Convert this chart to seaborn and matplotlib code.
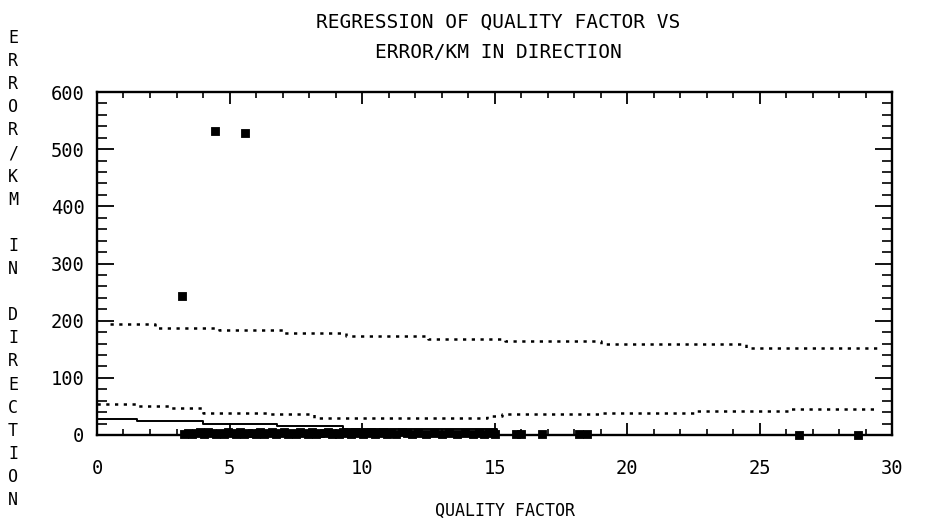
import matplotlib
matplotlib.use("Agg")
import matplotlib.pyplot as plt
from matplotlib.ticker import MultipleLocator
import seaborn as sns
import pandas as pd

# Observations: quality factor vs error per km in direction
obs_x = [4.45, 5.6, 3.2,
         3.3, 3.45, 3.6, 3.75, 3.9, 4.05, 4.2, 4.35, 4.5, 4.65, 4.8, 4.95,
         5.1, 5.25, 5.4, 5.55, 5.7, 5.85, 6.0, 6.15, 6.3, 6.45, 6.6, 6.75,
         6.9, 7.05, 7.2, 7.35, 7.5, 7.65, 7.8, 7.95, 8.1, 8.25, 8.4, 8.55,
         8.7, 8.85, 9.0, 9.15, 9.3, 9.45, 9.6, 9.75, 9.9, 10.05, 10.2, 10.35,
         10.5, 10.65, 10.8, 10.95, 11.1, 11.3, 11.5, 11.7, 11.9, 12.1, 12.4,
         12.7, 13.0, 13.3, 13.6, 13.9, 14.2, 14.4, 14.6, 14.8, 15.0,
         15.8, 16.0, 16.8, 18.2, 18.5, 26.5, 28.7]
obs_y = [532, 528, 243,
         2, 4, 1, 3, 5, 2, 6, 3, 1, 4, 2, 5,
         3, 1, 6, 2, 4, 3, 1, 5, 2, 4, 6, 1,
         3, 5, 2, 4, 1, 6, 3, 2, 5, 1, 4, 3,
         6, 2, 4, 1, 5, 3, 2, 6, 4, 1, 3, 5,
         2, 4, 6, 1, 3, 2, 5, 4, 1, 3, 2,
         4, 1, 3, 2, 4, 1, 3, 2, 4, 2,
         1, 2, 1, 1, 2, 0, 0]

# Fitted regression line (plotter step resolution)
fit_x = [0.0, 1.5, 4.0, 6.8, 9.3, 15.1, 15.1, 30.0]
fit_y = [28, 24, 20, 16, 11, 11, 0, 0]

# Upper confidence band
upper_x = [0.5, 2.2, 4.6, 7.0, 9.4, 12.5, 15.4, 19.0, 24.5, 29.6]
upper_y = [194, 187, 183, 179, 173, 168, 164, 160, 153, 153]

# Lower confidence band
lower_x = [0.0, 1.5, 2.8, 4.0, 6.4, 8.2, 14.7, 15.3, 19.0, 22.6, 26.2, 29.4]
lower_y = [54, 51, 47, 39, 36, 30, 33, 36, 39, 42, 45, 45]

x_ticks = [0, 5, 10, 15, 20, 25, 30]
y_ticks = [0, 100, 200, 300, 400, 500, 600]

title_lines = ["REGRESSION OF QUALITY FACTOR VS", "ERROR/KM IN DIRECTION"]
x_title = "QUALITY FACTOR"
y_title = "ERROR/KM IN DIRECTION"

sns.set_theme(style="white")
mono = ["DejaVu Sans Mono", "DejaVu Sans"]
plt.rcParams["font.family"] = mono

W, H = 928, 523
fig = plt.figure(figsize=(W / 100, H / 100), dpi=100)
ax = fig.add_axes([97 / W, 88 / H, 795 / W, 343 / H])

ink = "black"
pts = pd.DataFrame({"q": obs_x, "e": obs_y})
sns.scatterplot(data=pts, x="q", y="e", marker="s", s=34, color=ink,
                edgecolor=ink, linewidth=0.6, ax=ax, clip_on=False, zorder=4)

fit = pd.DataFrame({"q": fit_x, "e": fit_y})
ax.plot(fit["q"], fit["e"], color=ink, lw=1.4, drawstyle="steps-post", zorder=3)

band_style = dict(color=ink, lw=1.8, drawstyle="steps-post",
                  linestyle=(0, (1.3, 2.2)), sort=False)
up = pd.DataFrame({"q": upper_x, "e": upper_y})
sns.lineplot(data=up, x="q", y="e", ax=ax, **band_style)
lo = pd.DataFrame({"q": lower_x, "e": lower_y})
sns.lineplot(data=lo, x="q", y="e", ax=ax, **band_style)

ax.set_xlim(0, 30)
ax.set_ylim(0, 600)
ax.set_xlabel("")
ax.set_ylabel("")

for sp in ax.spines.values():
    sp.set_color(ink)
    sp.set_linewidth(1.7)

ax.set_xticks(x_ticks)
ax.set_yticks(y_ticks)
ax.xaxis.set_minor_locator(MultipleLocator(1))
ax.yaxis.set_minor_locator(MultipleLocator(20))
ax.tick_params(axis="x", which="major", direction="in", top=True, bottom=True,
               length=8.5, width=1.3, color=ink, pad=17, labelsize=13.5, labelcolor=ink)
ax.tick_params(axis="x", which="minor", direction="in", top=True, bottom=True,
               length=4.5, width=1.2, color=ink)
ax.tick_params(axis="y", which="major", direction="in", left=True, right=True,
               length=12, width=1.3, color=ink, pad=9, labelsize=13.5, labelcolor=ink)
ax.tick_params(axis="y", which="minor", direction="in", left=True, right=True,
               length=7, width=1.2, color=ink)

# Titles
fig.text(498 / W, 1 - 22 / H, title_lines[0], ha="center", va="center",
         fontsize=14, color=ink)
fig.text(498 / W, 1 - 53 / H, title_lines[1], ha="center", va="center",
         fontsize=14, color=ink)
fig.text(505 / W, 1 - 511 / H, x_title, ha="center", va="center",
         fontsize=12, color=ink)

# Vertical axis title, letters stacked upright
pitch = 23.1
for i, ch in enumerate(y_title):
    if ch != " ":
        fig.text(13 / W, 1 - (38 + i * pitch) / H, ch, ha="center", va="center",
                 fontsize=12, color=ink)

fig.savefig("out.png", dpi=100, facecolor="white")
